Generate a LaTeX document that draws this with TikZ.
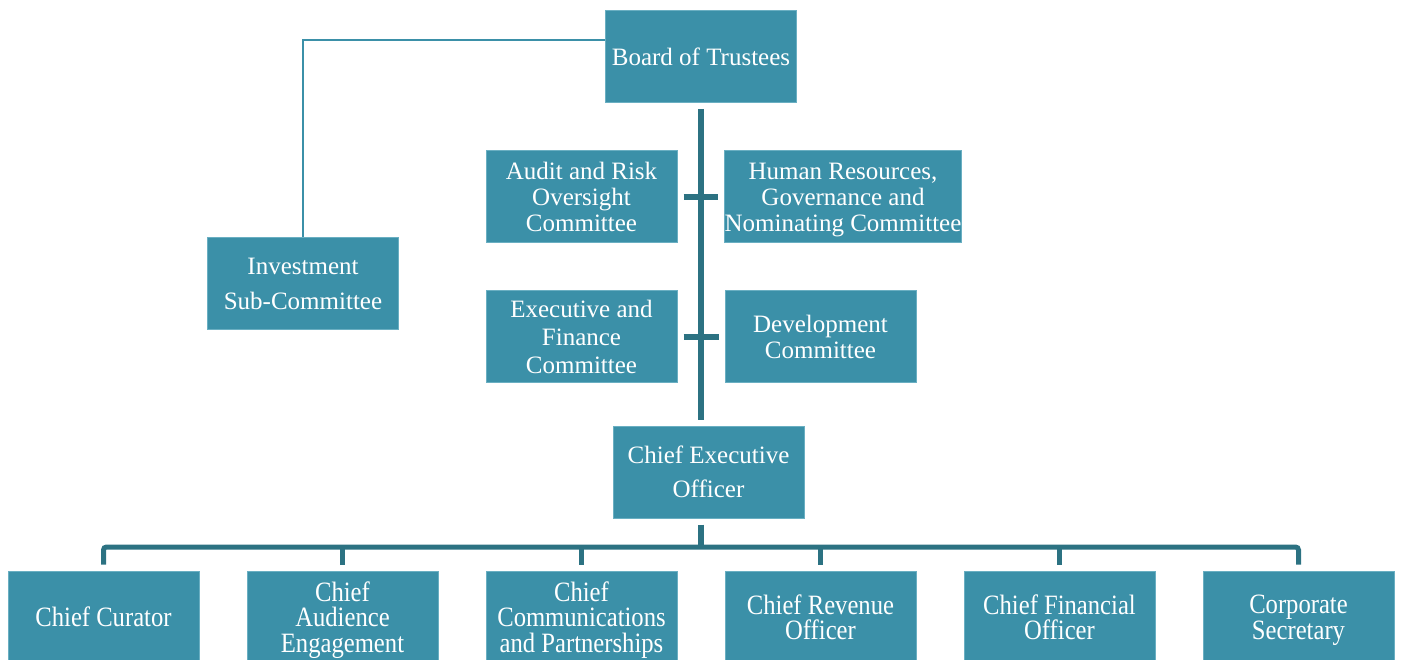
\documentclass[tikz,border=0pt]{standalone}
\usepackage{fontspec}
\setmainfont{Liberation Serif}
\newfontfamily\narrowfont[FakeStretch=0.88]{Liberation Serif}
\usepackage{xcolor}
\usepackage{tikz}
\definecolor{boxteal}{HTML}{3B90A8}
\definecolor{lineteal}{HTML}{2C7282}
\definecolor{edgeteal}{HTML}{6AAFC2}
\tikzset{
	orgbox/.style={draw=edgeteal,line width=1pt,fill=boxteal,text=white,align=center,text depth=0pt,
		minimum width=191pt,minimum height=92pt,inner sep=0pt,font=\fontsize{25}{26}\selectfont},
	chiefbox/.style={orgbox,font=\narrowfont\fontsize{28}{25.5}\selectfont},
	trunk/.style={draw=lineteal,line width=5.5pt},
	bus/.style={draw=lineteal,line width=5pt,rounded corners=3pt},
	thinlink/.style={draw=boxteal,line width=2pt}
}

\begin{document}
\begin{tikzpicture}[x=1pt,y=-1pt]
	\useasboundingbox (0,0) rectangle (1401,660);
	%
	%  BOARD AND COMMITTEES
	%
	\node[orgbox] (board) at (701,56.5) {Board of Trustees};
	\node[orgbox,font=\fontsize{25}{35}\selectfont] (invest) at (303,283.5) {Investment\\Sub-Committee};
	\node[orgbox] (audit) at (581.5,197) {Audit and Risk\\Oversight\\Committee};
	\node[orgbox,minimum width=236pt] (hr) at (843,197) {Human Resources,\\Governance and\\Nominating Committee};
	\node[orgbox,font=\fontsize{25}{28}\selectfont] (exec) at (581.5,337) {Executive and\\Finance\\Committee};
	\node[orgbox] (dev) at (820.5,337) {Development\\Committee};
	\node[orgbox,font=\fontsize{25}{34}\selectfont] (ceo) at (708.5,472) {Chief Executive\\Officer};
	%
	%  CHIEFS
	%
	\node[chiefbox] (c1) at (103.5,617) {Chief Curator};
	\node[chiefbox] (c2) at (342.5,617) {Chief\\Audience\\Engagement};
	\node[chiefbox] (c3) at (581.5,617) {Chief\\Communications\\and Partnerships};
	\node[chiefbox] (c4) at (820.5,617) {Chief Revenue\\Officer};
	\node[chiefbox] (c5) at (1059.5,617) {Chief Financial\\Officer};
	\node[chiefbox] (c6) at (1298.5,617) {Corporate\\Secretary};
	%
	%  LINKS
	%
	\coordinate (bus) at (701,547);
	\draw[thinlink] ([yshift=16.5pt]board.west) -| (invest.north);
	\draw[trunk,shorten <=6pt,shorten >=6pt] (board.south) -- (board.south |- ceo.north);
	\draw[trunk,shorten <=6pt,shorten >=6pt] (audit.east) -- (hr.west);
	\draw[trunk,shorten <=6pt,shorten >=6pt] (exec.east) -- (exec.east -| dev.west);
	\draw[trunk,shorten <=6pt] (board.south |- ceo.south) -- (bus);
	\draw[bus] ([yshift=6pt]c1.north) -- (c1.north |- bus) -- (c6.north |- bus) -- ([yshift=6pt]c6.north);
	\foreach \i in {2,...,5}
		\draw[bus] (c\i.north |- bus) -- ([yshift=6pt]c\i.north);
\end{tikzpicture}
\end{document}
